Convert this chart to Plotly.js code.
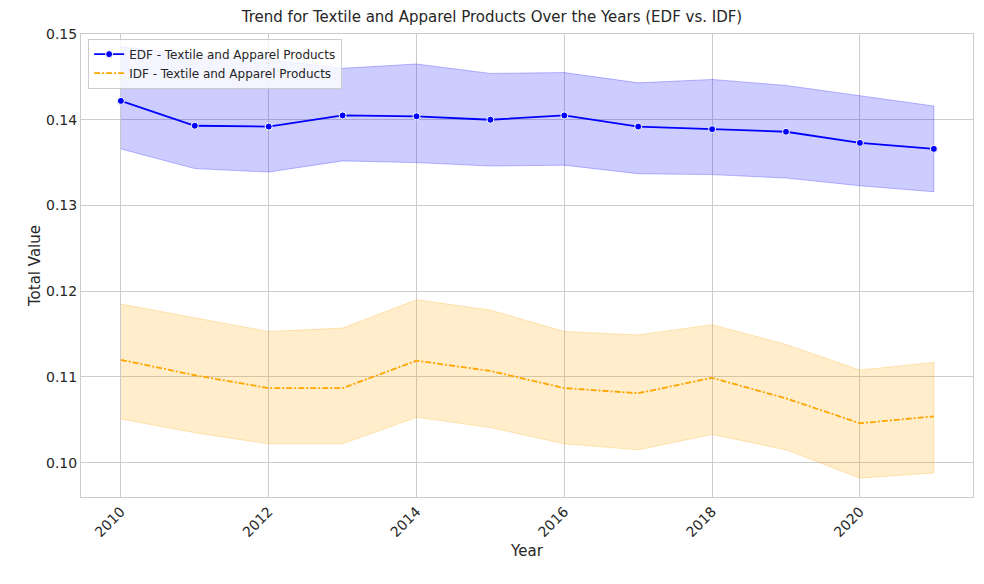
<!DOCTYPE html>
<html><head><meta charset="utf-8">
<script src="https://cdn.plot.ly/plotly-3.0.1.min.js"></script>
<style>body{margin:0}#chart{width:984px;height:584px}</style>
</head><body><div id="chart"></div>
<script>
const years = [2010,2011,2012,2013,2014,2015,2016,2017,2018,2019,2020,2021];
const edfMean  = [0.1422,0.1393,0.1392,0.1405,0.1404,0.1400,0.1405,0.1392,0.1389,0.1386,0.1373,0.1366];
const edfUpper = [0.1485,0.1475,0.1470,0.1460,0.1465,0.1454,0.1455,0.1443,0.1447,0.1440,0.1428,0.1416];
const edfLower = [0.1366,0.1343,0.1339,0.1352,0.1350,0.1346,0.1347,0.1337,0.1336,0.1332,0.1323,0.1316];
const idfMean  = [0.1120,0.1102,0.1087,0.1087,0.1119,0.1107,0.1087,0.1081,0.1099,0.1075,0.1046,0.1054];
const idfUpper = [0.1185,0.1169,0.1153,0.1157,0.1190,0.1178,0.1153,0.1149,0.1161,0.1138,0.1108,0.1117];
const idfLower = [0.1051,0.1035,0.1022,0.1022,0.1053,0.1041,0.1022,0.1015,0.1033,0.1015,0.0982,0.0988];

function band(upper, lower, fill, line) {
  return {
    x: years.concat(years.slice().reverse()),
    y: upper.concat(lower.slice().reverse()),
    type: 'scatter', mode: 'lines', fill: 'toself',
    fillcolor: fill, line: {color: line, width: 1},
    hoverinfo: 'skip', showlegend: false
  };
}

const data = [
  band(edfUpper, edfLower, 'rgba(0,0,255,0.2)', 'rgba(0,0,255,0.25)'),
  band(idfUpper, idfLower, 'rgba(255,165,0,0.2)', 'rgba(255,165,0,0.25)'),
  {
    x: years, y: edfMean, type: 'scatter', mode: 'lines+markers',
    name: 'EDF - Textile and Apparel Products',
    line: {color: 'blue', width: 1.8},
    marker: {color: 'blue', size: 7, line: {color: 'white', width: 1}}
  },
  {
    x: years, y: idfMean, type: 'scatter', mode: 'lines',
    name: 'IDF - Textile and Apparel Products',
    line: {color: 'orange', width: 1.8, dash: '6px,2px,2px,2px'}
  }
];

const layout = {
  width: 984, height: 584,
  margin: {l: 81, r: 11, t: 34, b: 87},
  paper_bgcolor: 'white', plot_bgcolor: 'white',
  font: {family: 'DejaVu Sans', size: 14, color: '#262626'},
  title: {text: 'Trend for Textile and Apparel Products Over the Years (EDF vs. IDF)', x: 0.5, y: 0.98, yanchor: 'top', font: {size: 15}},
  xaxis: {
    title: {text: 'Year', font: {size: 15}},
    range: [2009.46, 2021.53], tickvals: [2010,2012,2014,2016,2018,2020],
    tickangle: -45, gridcolor: '#cccccc', zeroline: false,
    showline: true, linecolor: '#cccccc', mirror: true, ticks: ''
  },
  yaxis: {
    title: {text: 'Total Value', font: {size: 15}},
    range: [0.096, 0.15], tickvals: [0.10,0.11,0.12,0.13,0.14,0.15], tickformat: '.2f',
    gridcolor: '#cccccc', zeroline: false,
    showline: true, linecolor: '#cccccc', mirror: true, ticks: ''
  },
  legend: {x: 0.008, y: 0.99, xanchor: 'left', yanchor: 'top',
    bgcolor: 'rgba(255,255,255,0.8)', bordercolor: '#cccccc', borderwidth: 1,
    font: {size: 12}}
};

Plotly.newPlot('chart', data, layout, {displayModeBar: false});
</script>
</body></html>
